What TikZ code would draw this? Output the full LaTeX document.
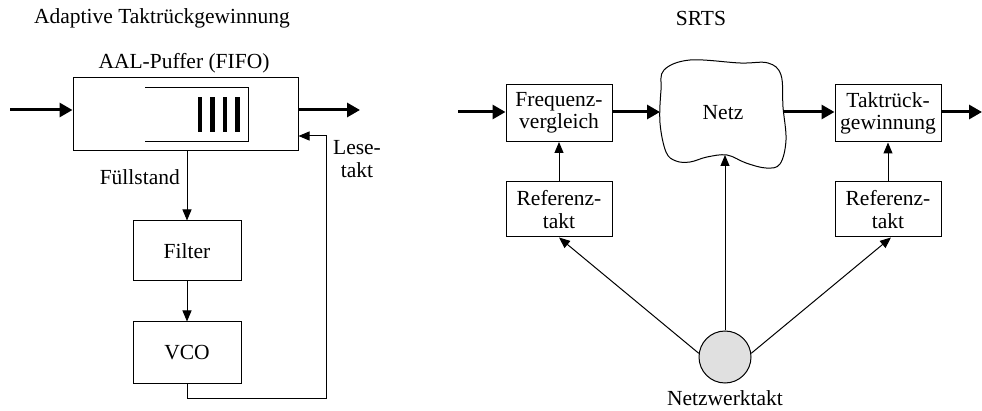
\documentclass[tikz,border=0pt]{standalone}
\usepackage{fontspec}
\setmainfont{Liberation Serif}
\usetikzlibrary{arrows.meta}
\begin{document}
\begin{tikzpicture}[x=1pt,y=-1pt,
  font=\fontsize{21.5}{22.5}\selectfont,
  lbl/.style={inner sep=0pt, align=center},
  blk/.style={draw, line width=1pt, inner sep=0pt, align=center, minimum width=106pt, minimum height=57pt},
  flow/.style={line width=3pt, -{Triangle[length=13pt,width=14pt]}},
  sig/.style={line width=1pt, -{Triangle[length=11pt,width=9pt]}},
  wire/.style={line width=1pt}]
\useasboundingbox (0,0) rectangle (982,411);

% ---------- left: adaptive clock recovery ----------
\node[lbl] (titleL) at (162,18) {Adaptive Taktrückgewinnung};
\node[lbl] (aal) at (184,63) {AAL-Puffer (FIFO)};
\node[draw, line width=1pt, minimum width=225pt, minimum height=73pt, inner sep=0pt] (buf) at (185.5,114.5) {};
\draw[wire] (145,87.5) -- (248,87.5) -- (248,142) -- (145,142);
\foreach \bx in {200,212.5,225,237.5}
  \fill (\bx-2.3,97) rectangle (\bx+2.3,132);
\coordinate (inL) at (10,110);
\coordinate (outL) at (360,110);
\draw[flow] (inL) -- (inL -| buf.west);
\draw[flow] (outL -| buf.east) -- (outL);

\node[blk, minimum width=108pt, minimum height=60pt] (filter) at (187,251) {Filter};
\node[blk, minimum width=108pt, minimum height=61pt] (vco) at (187,352.5) {VCO};
\node[lbl, anchor=east] (fuell) at (180,177) {Füllstand};
\node[lbl] (lese) at (357,159) {Lese-\\takt};

\draw[sig] (buf.south -| filter.north) -- (filter.north);
\draw[sig] (filter.south) -- (vco.north);
\coordinate (loopA) at (187,398);
\coordinate (loopB) at (326,398);
\coordinate (loopC) at (326,136);
\draw[sig] (vco.south) -- (loopA) -- (loopB) -- (loopC) -- (loopC -| buf.east);

% ---------- right: SRTS ----------
\node[lbl] (titleR) at (701,18) {SRTS};
\node[blk] (freq) at (559,113) {Frequenz-\\vergleich};
\node[blk] (takt) at (888,113.5) {Taktrück-\\gewinnung};
\node[blk, minimum height=55pt] (refL) at (559,209.5) {Referenz-\\takt};
\node[blk, minimum height=55pt] (refR) at (888,209.5) {Referenz-\\takt};

% cloud
\draw[line width=1pt] plot[smooth cycle, tension=0.6] coordinates {
  (664,70) (690,60) (740,63) (768,63) (781,75) (783,107) (786,140)
  (780,164) (766,168) (746,163) (727,155) (707,157) (690,162) (676,161)
  (666,152) (660,123) (661,90)};
\node[lbl] (netz) at (723,113) {Netz};
\coordinate (cloudW) at (660,112);
\coordinate (cloudE) at (784,112);
\coordinate (cloudS) at (725,155);

\node[draw, circle, line width=1pt, fill=black!12, minimum size=52pt, inner sep=0pt] (clk) at (725,357) {};
\node[lbl] (clklbl) at (725,398) {Netzwerktakt};

\coordinate (inR) at (458,112);
\coordinate (outR) at (982,112);
\draw[flow] (inR) -- (inR -| freq.west);
\draw[flow] (freq.east |- cloudW) -- (cloudW);
\draw[flow] (cloudE) -- (cloudE -| takt.west);
\draw[flow] (takt.east |- outR) -- (outR);

\draw[sig] (refL.north) -- (freq.south);
\draw[sig] (refR.north) -- (takt.south);
\draw[sig] (clk.north) -- (cloudS);
\draw[sig] (clk.172) -- (refL.south);
\draw[sig] (clk.8) -- ([xshift=3pt]refR.south);
\end{tikzpicture}
\end{document}
